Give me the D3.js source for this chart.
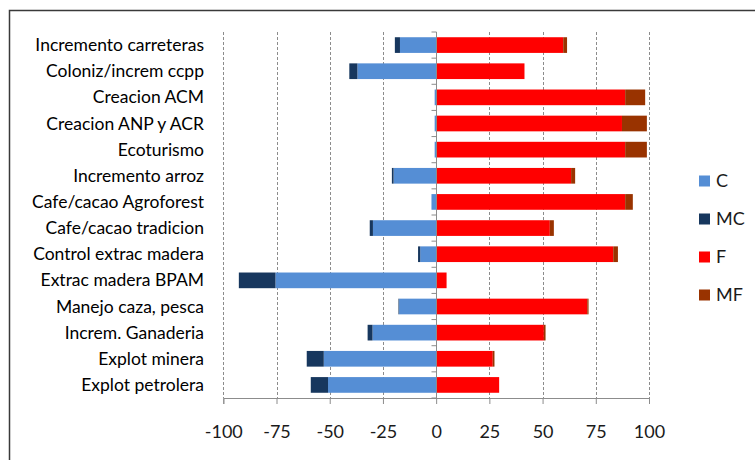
<!DOCTYPE html>
<html>
<head>
<meta charset="utf-8">
<script src="https://cdn.jsdelivr.net/npm/d3@7"></script>
<style>
  body { margin: 0; background: #fff; }
  svg { font-family: Lato, "Open Sans", sans-serif; display: block; }
  .grid line { stroke: #8c8c8c; stroke-dasharray: 3,2; }
</style>
</head>
<body>
<svg id="chart" width="755" height="460"></svg>
<script>
const categories = ["Incremento carreteras", "Coloniz/increm ccpp", "Creacion ACM", "Creacion ANP y ACR",
  "Ecoturismo", "Incremento arroz", "Cafe/cacao Agroforest", "Cafe/cacao tradicion",
  "Control extrac madera", "Extrac madera BPAM", "Manejo caza, pesca", "Increm. Ganaderia",
  "Explot minera", "Explot petrolera"];
const valC = [-17, -37, -0.7, -0.7, -0.7, -20, -2.2, -29.7, -7.5, -75.5, -17.4, -29.9, -52.8, -50.8];
const valMC = [-2.4, -3.8, 0, 0, 0, -0.8, 0, -1.5, -1, -17.2, -0.3, -2.3, -8, -8.1];
const valF = [59.7, 41.5, 88.8, 87.3, 88.8, 63.4, 88.8, 53.4, 83.2, 4.9, 71, 50.6, 26.6, 29.6];
const valMF = [1.8, 0, 9.4, 11.7, 10.2, 1.9, 3.6, 1.9, 2.2, 0, 0.6, 0.8, 0.8, 0];
const seriesKeys = ["C", "MC", "F", "MF"];
const xTicks = [-100, -75, -50, -25, 0, 25, 50, 75, 100];

const colors = {C: "#558ed5", MC: "#17375e", F: "#ff0000", MF: "#993300"};

const svg = d3.select("#chart");

// outer frame, cut by the window on the right and bottom
svg.append("rect")
    .attr("x", 9.5).attr("y", 10.5)
    .attr("width", 800).attr("height", 500)
    .attr("fill", "none").attr("stroke", "#3a3a3a").attr("stroke-width", 1.5);

const table = categories.map((c, i) => ({cat: c, C: valC[i], MC: valMC[i], F: valF[i], MF: valMF[i]}));

const x = d3.scaleLinear().domain([-100, 100]).range([223.3, 649]);
const y = d3.scaleBand().domain(categories).range([32, 398]).paddingInner(0.4).paddingOuter(0.2);

// gridlines
svg.append("g").attr("class", "grid")
    .selectAll("line")
    .data(xTicks.filter(d => d !== 0))
    .join("line")
    .attr("x1", d => Math.round(x(d)) + 0.5).attr("x2", d => Math.round(x(d)) + 0.5)
    .attr("y1", 32).attr("y2", 398);

const stack = d3.stack().keys(seriesKeys).offset(d3.stackOffsetDiverging);
const layers = stack(table);

svg.append("g").selectAll("g")
    .data(layers)
    .join("g")
    .attr("fill", d => colors[d.key])
    .selectAll("rect")
    .data(d => d)
    .join("rect")
    .attr("x", d => x(Math.min(d[0], d[1])))
    .attr("width", d => Math.abs(x(d[1]) - x(d[0])))
    .attr("y", d => y(d.data.cat))
    .attr("height", y.bandwidth());

// vertical axis at 0
const x0 = Math.round(x(0)) + 0.5;
svg.append("line")
    .attr("x1", x0).attr("x2", x0).attr("y1", 32).attr("y2", 398)
    .attr("stroke", "#8c8c8c");
svg.append("g").selectAll("line")
    .data(d3.range(categories.length + 1))
    .join("line")
    .attr("x1", x0 - 5).attr("x2", x0)
    .attr("y1", i => 32 + i * (366 / categories.length))
    .attr("y2", i => 32 + i * (366 / categories.length))
    .attr("stroke", "#8c8c8c");

// bottom axis
const xAxis = d3.axisBottom(x).tickValues(xTicks).tickSize(6).tickPadding(21)
    .tickFormat(d => String(d));
const gx = svg.append("g").attr("transform", "translate(0,398)").call(xAxis);
gx.select(".domain").attr("stroke", "#8c8c8c");
gx.selectAll(".tick line").attr("stroke", "#8c8c8c");
gx.selectAll(".tick text")
    .attr("fill", "#1a1a1a")
    .style("font-size", "18px")
    .style("font-family", "Lato, 'Open Sans', sans-serif");

// category labels
svg.append("g").selectAll("text")
    .data(categories)
    .join("text")
    .attr("x", 204)
    .attr("y", d => y(d) + y.bandwidth() / 2)
    .attr("dy", "0.35em")
    .attr("text-anchor", "end")
    .style("font-size", "17.5px")
    .attr("fill", "#000")
    .text(d => d);

// legend
const legend = svg.append("g").selectAll("g")
    .data(seriesKeys)
    .join("g")
    .attr("transform", (d, i) => `translate(699,${181 + i * 38})`);
legend.append("rect")
    .attr("x", 0).attr("y", -5.5).attr("width", 11).attr("height", 11)
    .attr("fill", d => colors[d]);
legend.append("text")
    .attr("x", 17).attr("dy", "0.35em")
    .style("font-size", "18px")
    .attr("fill", "#1a1a1a")
    .text(d => d);
</script>
</body>
</html>
